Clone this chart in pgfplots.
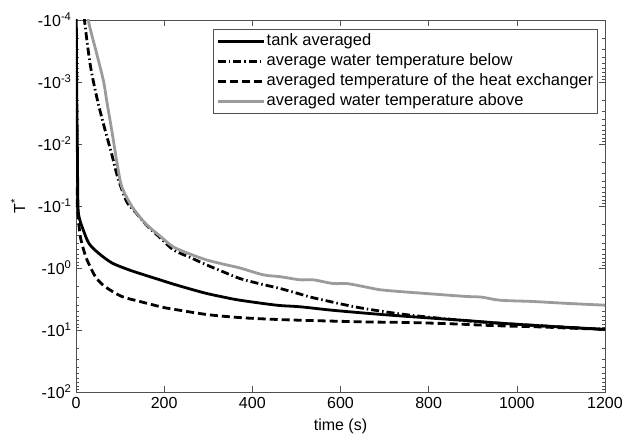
\documentclass[border=0pt]{standalone}
\usepackage{fontspec}
\setmainfont{Liberation Sans}
\usepackage{pgfplots}
\pgfplotsset{compat=1.18}
\definecolor{lgray}{RGB}{155,155,155}
\definecolor{axgray}{RGB}{80,80,80}
\begin{document}
\begin{tikzpicture}
\useasboundingbox (-76pt,-44pt) rectangle (548pt,392pt);
\begin{axis}[
  at={(0,0)}, anchor=south west,
  scale only axis, width=529pt, height=372pt,
  xmin=0, xmax=1200, ymode=log, ymin=1e-4, ymax=1e2, y dir=reverse,
  axis line style={axgray, line width=0.8pt},
  tick style={axgray, line width=0.6pt},
  major tick length=6pt, minor tick length=3.5pt,
  tick align=inside,
  xtick={0,200,400,600,800,1000,1200},
  ytick={1e-4,1e-3,1e-2,1e-1,1e0,1e1,1e2},
  minor ytick={2e-4,3e-4,4e-4,5e-4,6e-4,7e-4,8e-4,9e-4,
               2e-3,3e-3,4e-3,5e-3,6e-3,7e-3,8e-3,9e-3,
               2e-2,3e-2,4e-2,5e-2,6e-2,7e-2,8e-2,9e-2,
               2e-1,3e-1,4e-1,5e-1,6e-1,7e-1,8e-1,9e-1,
               2,3,4,5,6,7,8,9,20,30,40,50,60,70,80,90},
  yticklabels={-10\textsuperscript{-4},-10\textsuperscript{-3},-10\textsuperscript{-2},-10\textsuperscript{-1},-10\textsuperscript{0},-10\textsuperscript{1},-10\textsuperscript{2}},
  /pgf/number format/assume math mode=true,
  /pgf/number format/1000 sep={},
  tick label style={font=\fontsize{16}{19}\selectfont, black},
  xticklabel style={yshift=-2pt},
  yticklabel style={xshift=-1pt},
  xlabel={time (s)},
  ylabel={T\textsuperscript{*}},
  every axis x label/.style={at={(axis description cs:0.5,-0.0914)}, anchor=center, font=\fontsize{16}{19}\selectfont},
  every axis y label/.style={at={(axis description cs:-0.1096,0.5)}, rotate=90, anchor=center, font=\fontsize{16}{19}\selectfont},
  legend style={at={(0.9868,0.9758)}, anchor=north east, draw=axgray, line width=0.6pt,
    fill=white, font=\fontsize{16.5}{19}\selectfont, inner xsep=3pt, inner ysep=2pt, row sep=0pt,
    nodes={inner xsep=1.5pt, inner ysep=2pt, text height=12pt, text depth=4pt}},
  legend cell align=left,
  legend image code/.code={\draw[#1] (0pt,0pt) -- (46pt,0pt);},
]
% tank averaged
\addplot[black, line width=2.8pt, smooth, tension=0.5] coordinates {
(0,1e-5) (1.5,1e-3) (3,1e-2) (4.5,0.1) (8,0.16) (13.6,0.214) (29,0.398) (51,0.575)
(82,0.832) (120,1.07) (150,1.26) (190,1.55) (221,1.82) (260,2.19) (296,2.57) (335,2.95)
(372,3.31) (455,3.98) (508,4.22) (580,4.79) (659,5.37) (730,5.89) (810,6.46) (890,7.08)
(962,7.76) (1050,8.51) (1120,9.12) (1200,9.77)
};
\addlegendentry{tank averaged}
% below
\addplot[black, line width=2.8pt, dash pattern=on 8pt off 3pt on 1.5pt off 3pt, smooth, tension=0.5] coordinates {
(17,5e-5) (19.7,1.07e-4) (32.5,5.37e-4) (47.6,1.82e-3) (62.8,4.9e-3) (81.6,1.51e-2)
(95,3.5e-2) (115,8.5e-2) (135,0.126) (160,0.204) (190,0.32) (221,0.51) (260,0.68)
(296,0.89) (335,1.16) (372,1.48) (420,1.82) (463,2.14) (508,2.63) (538,3.02) (614,3.98)
(659,4.57) (735,5.50) (810,6.31) (900,7.24) (1000,8.13) (1100,8.91) (1200,9.77)
};
\addlegendentry{average water temperature below}
% heat exchanger
\addplot[black, line width=2.8pt, dash pattern=on 8pt off 4pt, smooth, tension=0.5] coordinates {
(0.5,0.05) (3,0.1) (6,0.18) (10,0.316) (17,0.5) (25,0.74) (44,1.38) (66,2.0) (104,2.88)
(145,3.47) (195,4.27) (221,4.62) (296,5.62) (372,6.31) (455,6.76) (546,7.08) (659,7.41)
(760,7.59) (850,7.94) (950,8.51) (1050,8.91) (1120,9.33) (1200,9.77)
};
\addlegendentry{averaged temperature of the heat exchanger}
% above
\addplot[lgray, line width=2.8pt, smooth, tension=0.5] coordinates {
(25,5e-5) (28.7,1.07e-4) (47.6,3.63e-4) (62.8,1e-3) (70,2.09e-3) (81.6,6.31e-3) (93,2e-2)
(104,4.9e-2) (127,0.102) (157,0.19) (188,0.295) (221,0.457) (260,0.6) (296,0.74) (335,0.87)
(372,1.0) (425,1.29) (463,1.38) (508,1.55) (538,1.55) (583,1.78) (614,1.78) (659,2.04)
(689,2.24) (735,2.40) (810,2.63) (886,2.88) (920,2.95) (962,3.31) (1037,3.47) (1113,3.72)
(1200,3.98)
};
\addlegendentry{averaged water temperature above}
\end{axis}
\end{tikzpicture}
\end{document}
